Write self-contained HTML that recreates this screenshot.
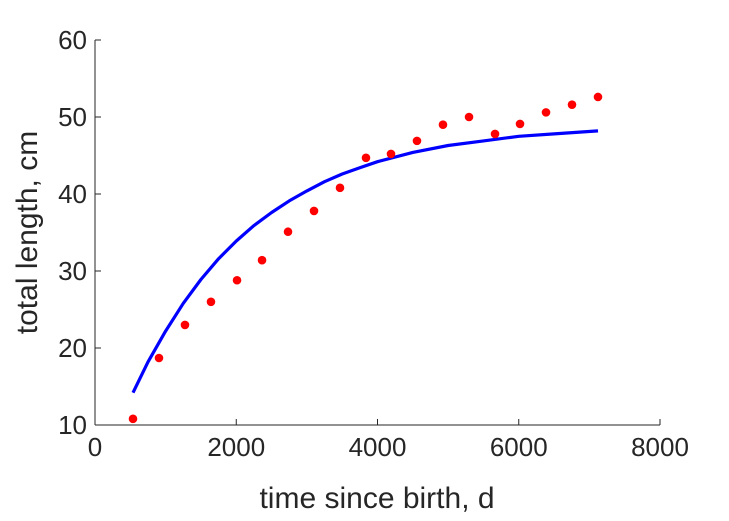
<!DOCTYPE html>
<html><head><meta charset="utf-8"><style>
body{margin:0;background:#fff;}
svg{display:block;font-family:"Liberation Sans",Arial,sans-serif;}
</style></head><body>
<svg id="chart" width="729" height="521" viewBox="0 0 729 521">
<rect width="729" height="521" fill="#fff"/>
<g id="axes"></g>
<g id="series"></g>
</svg>
<script>
const obsT=[538,906,1274,1642,2011,2365,2733,3101,3469,3837,4191,4559,4927,5296,5664,6018,6386,6754,7122];
const obsL=[10.8,18.7,23.0,26.0,28.8,31.4,35.1,37.8,40.8,44.7,45.2,46.9,49.0,50.0,47.8,49.1,50.6,51.6,52.6];
const fitT=[538,750,1000,1250,1500,1750,2000,2250,2500,2750,3000,3250,3500,3750,4000,4500,5000,5500,6000,6500,7122];
const fitL=[14.2,18.2,22.2,25.8,28.9,31.6,33.9,35.9,37.6,39.1,40.4,41.6,42.6,43.4,44.2,45.4,46.3,46.9,47.5,47.8,48.2];
const xTicks=[0,2000,4000,6000,8000];
const yTicks=[10,20,30,40,50,60];
const X0=95,X1=660,Y0=425,Y1=40;
const sx=v=>X0+(v-0)/(8000-0)*(X1-X0);
const sy=v=>Y0-(v-10)/(60-10)*(Y0-Y1);
const NS="http://www.w3.org/2000/svg";
const axes=document.getElementById('axes'),ser=document.getElementById('series');
function mk(tag,attrs,parent){const e=document.createElementNS(NS,tag);for(const k in attrs)e.setAttribute(k,attrs[k]);parent.appendChild(e);return e;}
const c='#262626';
let ax=mk('line',{x1:X0,y1:Y0,x2:X1,y2:Y0,stroke:c,'stroke-width':1},axes);


let ay=mk('line',{x1:X0,y1:Y0,x2:X0,y2:Y1,stroke:c,'stroke-width':1},axes);


xTicks.forEach(v=>{
 const tk=mk('line',{x1:sx(v),y1:Y0,x2:sx(v),y2:Y0-6,stroke:c},axes);
 
 
 const t=mk('text',{x:sx(v),y:Y0+31,'text-anchor':'middle','font-size':26,fill:c},axes);
 t.textContent=v;
 
 
});
yTicks.forEach(v=>{
 const tk=mk('line',{x1:X0,y1:sy(v),x2:X0+6,y2:sy(v),stroke:c},axes);
 
 
 const t=mk('text',{x:X0-8,y:sy(v)+9,'text-anchor':'end','font-size':26,fill:c},axes);
 t.textContent=v;
 
 
});
const xl=mk('text',{x:377,y:508,'text-anchor':'middle','font-size':30,fill:c},axes);
xl.textContent='time since birth, d';


const yl=mk('text',{x:0,y:0,'text-anchor':'middle','font-size':30,fill:c,transform:`translate(37,${(Y0+Y1)/2}) rotate(-90)`},axes);
yl.textContent='total length, cm';


const d=fitT.map((t,i)=>(i?'L':'M')+sx(t).toFixed(1)+','+sy(fitL[i]).toFixed(1)).join(' ');
const p=mk('path',{d:d,fill:'none',stroke:'#0000ff','stroke-width':3.2,'stroke-linejoin':'round'},ser);


obsT.forEach((t,i)=>{
 const ci=mk('circle',{cx:sx(t),cy:sy(obsL[i]),r:4.3,fill:'#ff0000'},ser);
 
 
});
</script>
</body></html>
